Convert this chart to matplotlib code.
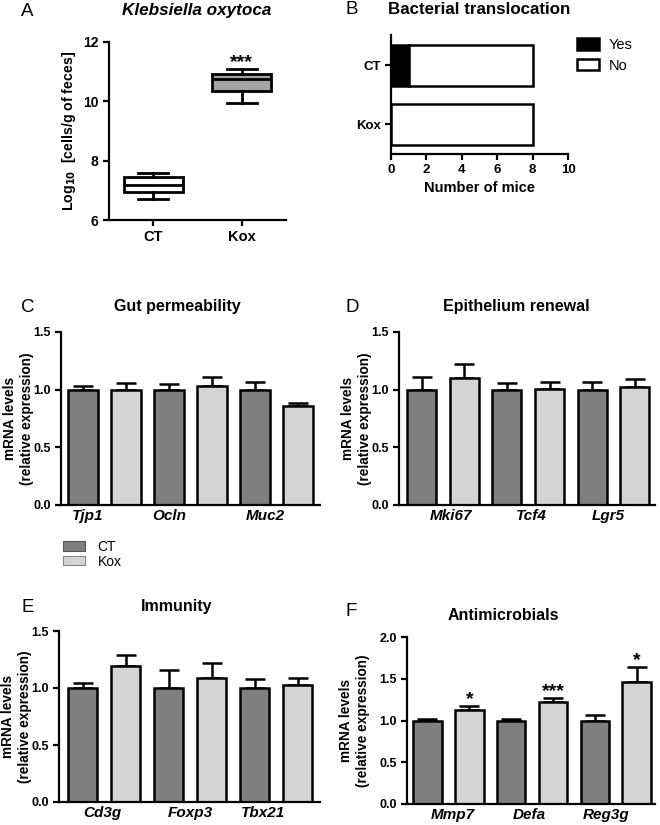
import matplotlib
matplotlib.use("Agg")
import matplotlib.pyplot as plt
from matplotlib.patches import Patch
import numpy as np

plt.rcParams['font.family'] = ['Liberation Sans', 'DejaVu Sans']
plt.rcParams['font.weight'] = 'bold'

W, H = 660, 825

# panel A: Klebsiella oxytoca counts (box stats)
box_groups = ["CT", "Kox"]
box_whislo = [6.70, 9.93]
box_q1 = [6.94, 10.35]
box_med = [7.19, 10.76]
box_q3 = [7.44, 10.91]
box_whishi = [7.59, 11.10]

# panel B: bacterial translocation
trans_groups = ["Kox", "CT"]
trans_yes = [0, 1]
trans_no = [8, 7]

# panels C-F: mRNA levels (mean, upper SEM) for CT and Kox
genes_c = ["Tjp1", "Ocln", "Muc2"]
ct_c = [1.00, 1.00, 1.00]
ct_c_err = [0.03, 0.05, 0.066]
kox_c = [1.00, 1.03, 0.855]
kox_c_err = [0.055, 0.08, 0.03]

genes_d = ["Mki67", "Tcf4", "Lgr5"]
ct_d = [1.00, 1.00, 1.00]
ct_d_err = [0.11, 0.058, 0.066]
kox_d = [1.10, 1.01, 1.026]
kox_d_err = [0.12, 0.06, 0.066]

genes_e = ["Cd3g", "Foxp3", "Tbx21"]
ct_e = [1.00, 1.00, 1.00]
ct_e_err = [0.047, 0.16, 0.076]
kox_e = [1.196, 1.085, 1.03]
kox_e_err = [0.09, 0.13, 0.06]

genes_f = ["Mmp7", "Defa", "Reg3g"]
ct_f = [1.00, 1.00, 1.00]
ct_f_err = [0.02, 0.02, 0.07]
kox_f = [1.127, 1.223, 1.46]
kox_f_err = [0.05, 0.05, 0.18]
stars_f = ["*", "***", "*"]

CT_COL = "#7f7f7f"
KOX_COL = "#d4d4d4"


def ax_px(x0, y0, x1, y1):
    return fig.add_axes([x0 / W, 1 - y1 / H, (x1 - x0) / W, (y1 - y0) / H])


def ftext(x, y, s, **kw):
    fig.text(x / W, 1 - y / H, s, **kw)


def style(ax, lw=1.6):
    for s in ["top", "right"]:
        ax.spines[s].set_visible(False)
    for s in ["left", "bottom"]:
        ax.spines[s].set_linewidth(lw)
    ax.tick_params(width=lw, length=4, labelsize=9)
    for lab in ax.get_xticklabels() + ax.get_yticklabels():
        lab.set_fontweight('bold')


fig = plt.figure(figsize=(W / 100, H / 100), dpi=100)

# ---- A
axA = ax_px(109, 42, 286, 220)
stats = []
for i in range(len(box_groups)):
    stats.append(dict(whislo=box_whislo[i], q1=box_q1[i], med=box_med[i],
                      q3=box_q3[i], whishi=box_whishi[i], fliers=[]))
bp = axA.bxp(stats, positions=[1, 2], widths=0.67, capwidths=0.34, patch_artist=True,
             boxprops=dict(linewidth=2, edgecolor='black'),
             medianprops=dict(color='black', linewidth=2),
             whiskerprops=dict(linewidth=2), capprops=dict(linewidth=2))
for patch, c in zip(bp['boxes'], ['white', '#a3a3a3']):
    patch.set_facecolor(c)
axA.set_xlim(0.5, 2.5)
axA.set_ylim(6, 12)
axA.set_yticks([6, 8, 10, 12])
axA.set_xticks([1, 2])
axA.set_xticklabels(box_groups)
style(axA)
axA.tick_params(axis='x', labelsize=10.5)
axA.tick_params(axis='y', labelsize=10)
axA.text(2, box_whishi[1] - 0.08, "***", ha='center', va='bottom', fontsize=14, fontweight='bold')
axA.set_ylabel("Log$_{\\mathbf{10}}$  [cells/g of feces]", fontsize=10.2, fontweight='bold')
axA.yaxis.set_label_coords(-0.175, 0.5)
ftext(197, 11, "Klebsiella oxytoca", ha='center', va='center', fontsize=12.3,
      fontweight='bold', style='italic')

# ---- B
axB = ax_px(391, 35, 568, 154)
ypos = np.arange(len(trans_groups))
axB.barh(ypos, trans_yes, height=0.7, color='black', edgecolor='black', linewidth=1.8, label='Yes')
axB.barh(ypos, trans_no, left=trans_yes, height=0.7, color='white', edgecolor='black',
         linewidth=1.8, label='No')
axB.set_xlim(0, 10)
axB.set_ylim(-0.51, 1.52)
axB.set_xticks(np.arange(0, 11, 2))
axB.set_yticks(ypos)
axB.set_yticklabels(trans_groups)
style(axB)
axB.tick_params(labelsize=9.5)
axB.set_xlabel("Number of mice", fontsize=10.5, fontweight='bold', labelpad=3)
ftext(479, 10, "Bacterial translocation", ha='center', va='center', fontsize=12.2, fontweight='bold')
axB.legend(loc='upper left', bbox_to_anchor=((577 - 568) / 177 + 1, (154 - 38) / 119), frameon=False,
           prop=dict(size=10.5, weight='normal'), handlelength=1.5, handleheight=0.86,
           labelspacing=0.45, handletextpad=0.7, borderpad=0, borderaxespad=0)

# ---- C-F
def bar_panel(rect, genes, ct, ct_err, kox, kox_err, ylim, yticks, xlim, label_x, title, tx, ty):
    ax = ax_px(*rect)
    n = len(genes)
    pos_ct = np.arange(n) * 2
    pos_kox = pos_ct + 1
    for pos, vals, errs, col in [(pos_ct, ct, ct_err, CT_COL), (pos_kox, kox, kox_err, KOX_COL)]:
        ax.bar(pos, vals, width=0.68, color=col, edgecolor='black', linewidth=1.8, zorder=2)
        ax.errorbar(pos, vals, yerr=[np.zeros(n), errs], fmt='none', ecolor='black',
                    elinewidth=1.8, capsize=7, capthick=1.8, zorder=1)
    ax.set_xlim(*xlim)
    ax.set_ylim(*ylim)
    ax.set_yticks(yticks)
    ax.set_yticklabels(["%.1f" % t for t in yticks])
    ax.set_xticks(label_x)
    ax.set_xticklabels(genes, style='italic')
    style(ax)
    ax.tick_params(axis='x', length=0, labelsize=11, pad=3)
    ax.set_ylabel("mRNA levels\n(relative expression)", fontsize=9.8, fontweight='bold', linespacing=1.25)
    ftext(tx, ty, title, ha='center', va='center', fontsize=11.5, fontweight='bold')
    return ax, pos_kox


axC, _ = bar_panel((61, 332, 320, 505), genes_c, ct_c, ct_c_err, kox_c, kox_c_err,
                   (0, 1.5), [0, 0.5, 1.0, 1.5], (-0.51, 5.51), [0.12, 2.0, 4.23],
                   "Gut permeability", 177, 307)
axC.yaxis.set_label_coords(-0.104, 0.5)
axD, _ = bar_panel((399, 332, 655, 505), genes_d, ct_d, ct_d_err, kox_d, kox_d_err,
                   (0, 1.5), [0, 0.5, 1.0, 1.5], (-0.53, 5.47), [0.69, 2.57, 4.37],
                   "Epithelium renewal", 516, 307)
axD.yaxis.set_label_coords(-0.105, 0.5)
axE, _ = bar_panel((59, 631, 320, 802), genes_e, ct_e, ct_e_err, kox_e, kox_e_err,
                   (0, 1.5), [0, 0.5, 1.0, 1.5], (-0.55, 5.52), [0.45, 2.5, 4.2],
                   "Immunity", 177, 606)
axE.yaxis.set_label_coords(-0.103, 0.5)
axF, pos_kox_f = bar_panel((407, 637, 655, 804), genes_f, ct_f, ct_f_err, kox_f, kox_f_err,
                           (0, 2.0), [0, 0.5, 1.0, 1.5, 2.0], (-0.49, 5.44), [0.61, 2.43, 4.28],
                           "Antimicrobials", 503, 616)
axF.yaxis.set_label_coords(-0.15, 0.5)
for p, v, e, s in zip(pos_kox_f, kox_f, kox_f_err, stars_f):
    axF.text(p, v + e - 0.03, s, ha='center', va='bottom', fontsize=14, fontweight='bold')

# shared legend
handles = [Patch(facecolor=CT_COL, edgecolor='#555555', linewidth=0.8, label='CT'),
           Patch(facecolor=KOX_COL, edgecolor='#888888', linewidth=0.8, label='Kox')]
fig.legend(handles=handles, loc='upper left', bbox_to_anchor=(63 / W, 1 - 540 / H), frameon=False,
           prop=dict(size=10, weight='normal'), handlelength=1.6, handleheight=0.65,
           labelspacing=0.05, handletextpad=0.9, borderpad=0, borderaxespad=0)

# panel letters
for letter, x, y in [("A", 27, 11), ("B", 352, 9), ("C", 28, 307), ("D", 352, 307),
                     ("E", 28, 608), ("F", 351, 612)]:
    ftext(x, y, letter, ha='center', va='center', fontsize=13.5, fontweight='normal')

fig.savefig("out.png", dpi=100)
